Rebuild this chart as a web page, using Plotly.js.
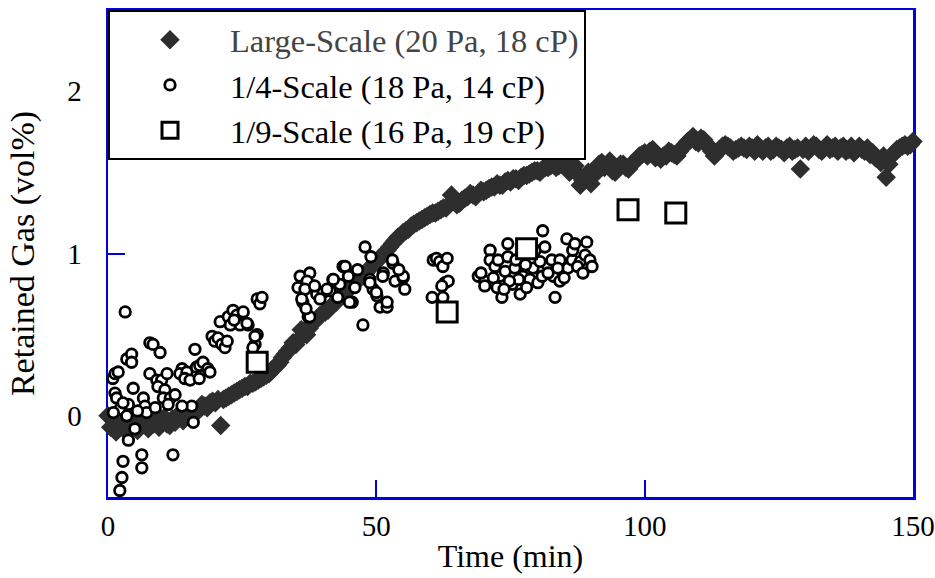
<!DOCTYPE html>
<html>
<head>
<meta charset="utf-8">
<script src="https://cdn.plot.ly/plotly-3.0.1.min.js"></script>
<style>html,body{margin:0;padding:0;background:#fff}#chart{width:935px;height:578px}</style>
</head>
<body>
<div id="chart"></div>
<script>
// Large-Scale (20 Pa, 18 cP): whole-minute readings
const largeTime = [0,1,2,3,4,5,6,7,8,9,10,11,12,13,14,15,16,17,18,19,20,21,22,23,24,25,26,27,28,29,30,31,32,33,34,35,36,37,38,39,40,41,42,43,44,45,46,47,48,49,50,51,52,53,54,55,56,57,58,59,60,61,62,63,64,65,66,67,68,69,70,71,72,73,74,75,76,77,78,79,80,81,82,83,84,85,86,87,88,89,90,91,92,93,94,95,96,97,98,99,100,101,102,103,104,105,106,107,108,109,110,111,112,113,114,115,116,117,118,119,120,121,122,123,124,125,126,127,128,129,130,131,132,133,134,135,136,137,138,139,140,141,142,143,144,145,146,147,148,149,150];
const largeGas = [0.0,-0.03,-0.06,-0.02,-0.08,-0.05,-0.07,-0.04,-0.06,-0.03,-0.02,-0.05,-0.02,0.0,-0.03,0.01,0.03,0.05,0.06,0.08,0.08,-0.06,0.11,0.13,0.15,0.17,0.18,0.2,0.22,0.24,0.26,0.3,0.33,0.38,0.42,0.44,0.53,0.5,0.57,0.6,0.63,0.65,0.69,0.72,0.76,0.78,0.82,0.85,0.88,0.92,0.95,0.98,1.02,1.06,1.1,1.13,1.15,1.18,1.2,1.22,1.24,1.25,1.27,1.28,1.36,1.3,1.33,1.35,1.36,1.37,1.38,1.4,1.41,1.42,1.44,1.44,1.46,1.47,1.48,1.5,1.51,1.52,1.53,1.55,1.54,1.56,1.5,1.54,1.42,1.47,1.43,1.52,1.56,1.55,1.51,1.53,1.55,1.52,1.56,1.6,1.62,1.63,1.59,1.58,1.6,1.62,1.6,1.65,1.69,1.72,1.68,1.7,1.66,1.6,1.64,1.67,1.65,1.64,1.66,1.64,1.65,1.67,1.63,1.66,1.64,1.65,1.62,1.66,1.64,1.52,1.66,1.65,1.66,1.63,1.67,1.65,1.63,1.66,1.64,1.62,1.66,1.63,1.61,1.59,1.56,1.47,1.6,1.64,1.66,1.66,1.69];
// Large-Scale: half-minute readings
const largeTimeHalf = [0.5,1.5,2.5,3.5,4.5,5.5,6.5,7.5,8.5,9.5,10.5,11.5,12.5,13.5,14.5,15.5,16.5,17.5,18.5,19.5,20.5,21.5,22.5,23.5,24.5,25.5,26.5,27.5,28.5,29.5,30.5,31.5,32.5,33.5,34.5,35.5,36.5,37.5,38.5,39.5,40.5,41.5,42.5,43.5,44.5,45.5,46.5,47.5,48.5,49.5,50.5,51.5,52.5,53.5,54.5,55.5,56.5,57.5,58.5,59.5,60.5,61.5,62.5,63.5,64.5,65.5,66.5,67.5,68.5,69.5,70.5,71.5,72.5,73.5,74.5,75.5,76.5,77.5,78.5,79.5,80.5,81.5,82.5,83.5,84.5,85.5,86.5,87.5,88.5,89.5,90.5,91.5,92.5,93.5,94.5,95.5,96.5,97.5,98.5,99.5,100.5,101.5,102.5,103.5,104.5,105.5,106.5,107.5,108.5,109.5,110.5,111.5,112.5,113.5,114.5,115.5,116.5,117.5,118.5,119.5,120.5,121.5,122.5,123.5,124.5,125.5,126.5,127.5,128.5,129.5,130.5,131.5,132.5,133.5,134.5,135.5,136.5,137.5,138.5,139.5,140.5,141.5,142.5,143.5,144.5,145.5,146.5,147.5,148.5,149.5];
const largeGasHalf = [-0.07,-0.1,-0.04,-0.1,-0.03,-0.09,-0.02,-0.08,-0.05,-0.07,-0.01,-0.06,-0.04,0.02,-0.01,0.02,0.02,0.07,0.05,0.09,0.1,0.1,0.12,0.14,0.16,0.18,0.2,0.21,0.23,0.25,0.28,0.31,0.36,0.4,0.45,0.47,0.52,0.54,0.58,0.62,0.64,0.67,0.7,0.74,0.77,0.8,0.84,0.86,0.9,0.93,0.97,1.0,1.04,1.08,1.11,1.14,1.17,1.19,1.21,1.23,1.25,1.26,1.28,1.3,1.32,1.31,1.34,1.37,1.35,1.39,1.39,1.41,1.43,1.42,1.45,1.46,1.45,1.48,1.49,1.51,1.5,1.53,1.54,1.53,1.57,1.55,1.53,1.49,1.45,1.5,1.48,1.55,1.53,1.57,1.5,1.55,1.53,1.55,1.58,1.61,1.6,1.64,1.6,1.6,1.63,1.61,1.63,1.67,1.7,1.69,1.71,1.67,1.63,1.62,1.66,1.66,1.63,1.65,1.65,1.66,1.63,1.65,1.65,1.63,1.66,1.64,1.65,1.63,1.65,1.64,1.63,1.67,1.64,1.65,1.64,1.66,1.65,1.63,1.66,1.64,1.64,1.65,1.62,1.58,1.6,1.55,1.62,1.65,1.67,1.67];

// 1/4-Scale (18 Pa, 14 cP)
const quarterTime = [0.9,1.3,1.9,3.2,3.5,4.4,4.4,7.8,8.4,9.7,7.8,4.7,1.3,1.6,2.2,3.8,3.5,6.6,6.9,7.2,3.8,6.3,6.3,2.8,2.6,2.2,12.1,9.1,10,11,9.3,10.6,10.3,11.6,12.5,11.2,13.8,13.4,14.7,14.3,15.3,16.5,17.1,17.7,18.6,16.2,15.6,15.9,19.4,19.9,20.5,21.2,21.8,22.2,20.9,22.4,23.3,24,25.2,24.6,26.1,27.8,27.4,27,27.8,28.3,28.7,25.9,27.4,2.8,13.8,5.5,8.8,1.0,5.0,17,19,22.8,23.5,
  35.8,37.6,37.1,35.4,36.7,38.9,36.3,36.1,37.3,40.1,41.4,41.9,43.8,43.2,45.5,46,48.8,49.4,50.1,50.7,52,51.3,53.1,53.5,55,55.3,47.5,47.9,53,55,52,50,48.8,51.2,44.2,42,40.8,45,37.6,38.5,39.5,44.8,46.5,49,42.8,36.9,54.2,
  60.6,61.2,61.8,62.4,62.8,63.4,62.2,60.4,62.4,63.2,
  69,70.2,70.2,71.2,71.2,72.1,72.7,73,73.4,74,74.5,74.5,75.3,75.8,76.8,77.3,78.6,79.2,79.6,80.1,80.9,81,81.4,81.8,82.7,83,83.3,84.2,84.2,85.5,85.7,86.5,86.6,87,88,88.9,89.2,89.8,90.2,69.5,71.8,72.5,76,77.8,78,80.5,82,83.8,85,87.5,88.5,76.5,74.8,73.8];
const quarterGas = [0.23,0.26,0.27,0.64,0.35,0.38,0.33,0.45,0.44,0.39,0.26,0.17,0.14,0.11,0.04,0.07,0.0,0.11,0.06,0.02,-0.15,-0.24,-0.32,-0.28,-0.38,-0.46,-0.24,0.22,0.22,0.26,0.18,0.16,0.11,0.11,0.13,0.07,0.29,0.26,0.27,0.23,0.22,0.3,0.31,0.33,0.29,0.41,0.06,-0.04,0.49,0.46,0.48,0.44,0.42,0.46,0.58,0.61,0.65,0.62,0.64,0.56,0.56,0.5,0.44,0.42,0.72,0.69,0.73,0.57,0.49,0.08,0.06,0.03,0.05,0.02,-0.08,0.23,0.27,0.56,0.59,
  0.86,0.88,0.83,0.79,0.78,0.75,0.7,0.72,0.61,0.76,0.77,0.84,0.92,0.81,0.7,0.79,0.84,0.78,0.74,0.67,0.67,0.88,0.94,0.83,0.85,0.78,0.56,1.04,0.96,0.86,0.7,0.76,0.82,0.86,0.92,0.84,0.78,0.7,0.61,0.8,0.72,0.86,0.9,0.98,0.73,0.66,0.9,
  0.96,0.97,0.95,0.92,0.82,0.83,0.8,0.73,0.73,0.97,
  0.86,0.83,0.8,1.02,0.96,0.92,0.96,0.86,0.73,0.89,1.06,0.98,0.81,0.91,0.75,0.86,0.84,0.91,1.02,0.82,0.86,1.14,1.04,0.93,0.96,0.86,0.73,0.96,0.83,1.09,0.91,0.96,1.02,1.06,0.95,0.99,1.07,0.96,0.92,0.88,0.85,0.79,0.96,0.93,0.79,0.95,0.88,0.91,0.85,0.92,0.88,0.84,0.83,0.78];

// 1/9-Scale (16 Pa, 19 cP)
const ninthTime = [27.8,63.2,78.0,96.9,105.8];
const ninthGas = [0.33,0.64,1.03,1.27,1.25];

const seriesNames = ['Large-Scale (20 Pa, 18 cP)','1/4-Scale (18 Pa, 14 cP)','1/9-Scale (16 Pa, 19 cP)'];
const xTicks = [0,50,100,150];
const yTicks = [0,1,2];

const serif = 'Liberation Serif, Times New Roman, serif';
const blue = '#0000e0';
const traces = [
  {x: largeTime.concat(largeTimeHalf), y: largeGas.concat(largeGasHalf),
   name: '<span style="color:#444">' + seriesNames[0] + '</span>', type: 'scatter', mode: 'markers', cliponaxis: false,
   marker: {symbol: 'diamond', size: 15, color: '#2e2e2e', line: {width: 0}}},
  {x: quarterTime, y: quarterGas, name: seriesNames[1], type: 'scatter', mode: 'markers', cliponaxis: false,
   marker: {symbol: 'circle', size: 10.5, color: '#ffffff', line: {width: 2.8, color: '#000000'}}},
  {x: ninthTime, y: ninthGas, name: seriesNames[2], type: 'scatter', mode: 'markers', cliponaxis: false,
   marker: {symbol: 'square', size: 20, color: '#ffffff', line: {width: 3, color: '#000000'}}}
];

const axisCommon = {
  showline: true, linecolor: blue, linewidth: 2.5, mirror: true,
  ticks: 'inside', ticklen: 17, tickwidth: 2, tickcolor: blue,
  showgrid: false, zeroline: false, layer: 'below traces',
  tickfont: {family: serif, size: 29, color: '#000'}
};

const layout = {
  width: 935, height: 578,
  margin: {l: 108, r: 22, t: 10, b: 81},
  paper_bgcolor: '#fff', plot_bgcolor: '#fff',
  font: {family: serif, color: '#000'},
  showlegend: true,
  legend: {x: 0, y: 1, xanchor: 'left', yanchor: 'top', bgcolor: '#fff', bordercolor: '#000', borderwidth: 2,
    font: {family: serif, size: 32.5, color: '#000'}, itemwidth: 110, tracegroupgap: 0},
  xaxis: Object.assign({}, axisCommon, {range: [0, 150], tickvals: xTicks, ticktext: xTicks.map(String),
    ticklabelstandoff: 2,
    title: {text: 'Time (min)', font: {size: 32, family: serif}, standoff: 4}}),
  yaxis: Object.assign({}, axisCommon, {range: [-0.5, 2.5], tickvals: yTicks, ticktext: yTicks.map(String),
    ticklabelstandoff: 18,
    title: {text: 'Retained Gas (vol%)', font: {size: 34, family: serif}, standoff: 23}})
};

Plotly.newPlot('chart', traces, layout, {displayModeBar: false, staticPlot: true});
</script>
</body>
</html>
